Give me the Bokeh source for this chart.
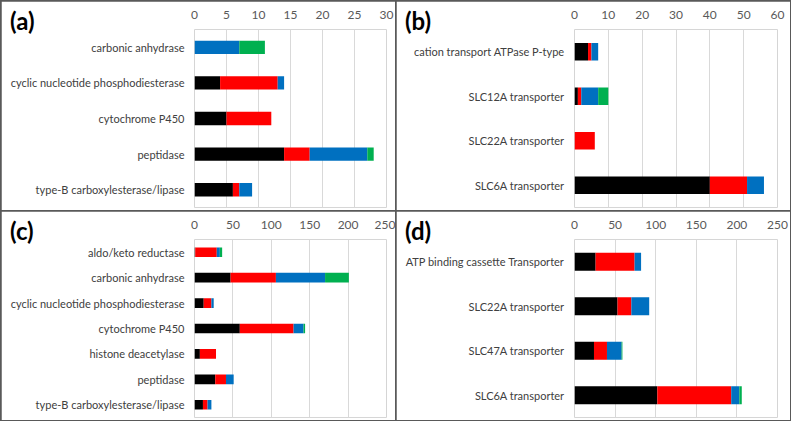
from bokeh.plotting import figure
from bokeh.models import FactorRange, Range1d, Div, GridBox, SingleIntervalTicker, ColumnDataSource
from bokeh.embed import file_html
from bokeh.resources import INLINE

# ---- data ----
series = ["s1", "s2", "s3", "s4"]
colors = ["#000000", "#FF0000", "#0070C0", "#00B050"]

a_cats = ["carbonic anhydrase", "cyclic nucleotide phosphodiesterase", "cytochrome P450",
          "peptidase", "type-B carboxylesterase/lipase"]
a_s1 = [0, 4, 5, 14, 6]
a_s2 = [0, 9, 7, 4, 1]
a_s3 = [7, 1, 0, 9, 2]
a_s4 = [4, 0, 0, 1, 0]

b_cats = ["cation transport ATPase P-type", "SLC12A transporter", "SLC22A transporter",
          "SLC6A transporter"]
b_s1 = [4, 1, 0, 40]
b_s2 = [1, 1, 6, 11]
b_s3 = [2, 5, 0, 5]
b_s4 = [0, 3, 0, 0]

c_cats = ["aldo/keto reductase", "carbonic anhydrase", "cyclic nucleotide phosphodiesterase",
          "cytochrome P450", "histone deacetylase", "peptidase", "type-B carboxylesterase/lipase"]
c_s1 = [1, 47, 12, 59, 7, 27, 11]
c_s2 = [28, 59, 10, 70, 21, 14, 6]
c_s3 = [4, 64, 3, 13, 0, 10, 5]
c_s4 = [3, 31, 0, 2, 0, 0, 0]

d_cats = ["ATP binding cassette Transporter", "SLC22A transporter", "SLC47A transporter",
          "SLC6A transporter"]
d_s1 = [26, 53, 24, 102]
d_s2 = [48, 17, 16, 91]
d_s3 = [8, 22, 18, 10]
d_s4 = [0, 0, 1, 3]

titles = ["(a)", "(b)", "(c)", "(d)"]

FONT = "Lato"
W, H = 394, 209


def panel(cats, vals, xmax, step, left, right, bar_h):
    src = ColumnDataSource(dict(cat=cats, s1=vals[0], s2=vals[1], s3=vals[2], s4=vals[3]))
    p = figure(width=W, height=H, output_backend="svg", toolbar_location=None,
               y_range=FactorRange(*list(reversed(cats))), x_range=Range1d(0, xmax),
               x_axis_location="above",
               min_border_left=left, min_border_right=right,
               min_border_top=28, min_border_bottom=3)
    p.hbar_stack(series, y="cat", height=bar_h, color=colors, line_width=0, source=src)
    p.outline_line_color = None
    p.background_fill_color = "white"
    p.border_fill_color = "white"
    p.ygrid.grid_line_color = None
    p.xgrid.grid_line_color = "#D9D9D9"
    p.xgrid.grid_line_width = 1
    xa = p.xaxis[0]
    xa.ticker = SingleIntervalTicker(interval=step)
    xa.axis_line_color = None
    xa.major_tick_line_color = None
    xa.minor_tick_line_color = None
    xa.major_tick_out = 0
    xa.major_label_standoff = 7
    xa.major_label_text_font = FONT
    xa.major_label_text_font_size = "12px"
    xa.major_label_text_color = "#595959"
    ya = p.yaxis[0]
    ya.axis_line_color = None
    ya.major_tick_line_color = None
    ya.major_tick_out = 0
    ya.major_label_standoff = 10
    ya.major_label_text_font = FONT
    ya.major_label_text_font_size = "11px"
    ya.major_label_text_color = "#404040"
    return p


def title_div(t):
    return Div(text=t, width=40, height=26, align="start", margin=(7, 0, 0, 9),
               styles={"font-family": FONT, "font-weight": "bold", "font-size": "24px",
                       "line-height": "1.05", "color": "#000000",
                       "background-color": "transparent"})


pa = panel(a_cats, [a_s1, a_s2, a_s3, a_s4], 30, 5, 193, 9, 0.375)
pb = panel(b_cats, [b_s1, b_s2, b_s3, b_s4], 60, 10, 168, 10, 0.39)
pc = panel(c_cats, [c_s1, c_s2, c_s3, c_s4], 250, 50, 193, 9, 0.38)
pd = panel(d_cats, [d_s1, d_s2, d_s3, d_s4], 250, 50, 178, 13, 0.4)

children = [(pa, 0, 0), (pb, 0, 1), (pc, 1, 0), (pd, 1, 1)]
for t, (r, c) in zip(titles, [(0, 0), (0, 1), (1, 0), (1, 1)]):
    children.append((title_div(t), r, c))

grid = GridBox(children=children, spacing=1,
               styles={"background-color": "#595959", "border": "1px solid #595959"})

open("out.html", "w").write(file_html(grid, INLINE))
